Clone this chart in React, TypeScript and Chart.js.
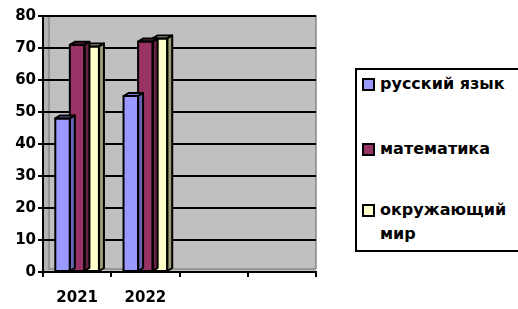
import React, { useEffect, useRef } from "react";
import { Chart, registerables } from "chart.js";

Chart.register(...registerables);

const categories = ["2021", "2022", "", ""];
const seriesNames = ["русский язык", "математика", "окружающий мир"];
const russian = [48, 55, null, null];
const maths = [71, 72, null, null];
const world = [70.5, 73, null, null];
const yTicks = [0, 10, 20, 30, 40, 50, 60, 70, 80];

const fronts = ["#9999ff", "#993366", "#ffffcc"];
const tops = ["#7b7bd6", "#7a2851", "#d9d9ad"];
const sides = ["#6666b3", "#66223f", "#999977"];

const FONT = "'DejaVu Sans', sans-serif";

const depthPlugin = {
  id: "depth3d",
  beforeDraw(chart: any) {
    const { ctx, chartArea: a } = chart;
    ctx.save();
    ctx.fillStyle = "#c0c0c0";
    ctx.fillRect(a.left, a.top, a.right - a.left, a.bottom - a.top);
    ctx.fillStyle = "#b4b4b4";
    ctx.beginPath();
    ctx.moveTo(a.left, a.top + 3);
    ctx.lineTo(a.left + 6, a.top);
    ctx.lineTo(a.left + 6, a.bottom - 3);
    ctx.lineTo(a.left, a.bottom);
    ctx.closePath();
    ctx.fill();
    ctx.strokeStyle = "#888888";
    ctx.lineWidth = 1.5;
    ctx.beginPath();
    ctx.moveTo(a.left + 6, a.top);
    ctx.lineTo(a.right, a.top);
    ctx.lineTo(a.right, a.bottom - 3);
    ctx.moveTo(a.left + 6, a.top);
    ctx.lineTo(a.left + 6, a.bottom - 3);
    ctx.lineTo(a.right, a.bottom - 3);
    ctx.stroke();
    ctx.restore();
  },
  afterDatasetDraw(chart: any, args: any) {
    const { ctx } = chart;
    const i = args.index;
    const meta = chart.getDatasetMeta(i);
    const dx = 5;
    const dy = 3;
    ctx.save();
    ctx.lineWidth = 2;
    ctx.strokeStyle = "#000";
    ctx.lineJoin = "round";
    meta.data.forEach((bar: any, j: number) => {
      const v = chart.data.datasets[i].data[j];
      if (v == null) return;
      const p = bar.getProps(["x", "y", "base", "width"], true);
      const l = p.x - p.width / 2;
      const r = p.x + p.width / 2;
      const t = p.y;
      const b = p.base;
      ctx.fillStyle = tops[i];
      ctx.beginPath();
      ctx.moveTo(l, t);
      ctx.lineTo(l + dx, t - dy);
      ctx.lineTo(r + dx, t - dy);
      ctx.lineTo(r, t);
      ctx.closePath();
      ctx.fill();
      ctx.stroke();
      ctx.fillStyle = sides[i];
      ctx.beginPath();
      ctx.moveTo(r, t);
      ctx.lineTo(r + dx, t - dy);
      ctx.lineTo(r + dx, b - dy);
      ctx.lineTo(r, b);
      ctx.closePath();
      ctx.fill();
      ctx.stroke();
      ctx.strokeRect(l, t, r - l, b - t);
    });
    ctx.restore();
  },
};

export default function App() {
  const ref = useRef<HTMLCanvasElement | null>(null);

  useEffect(() => {
    if (!ref.current) return;
    const series = [russian, maths, world];
    const chart = new Chart(ref.current, {
      type: "bar",
      data: {
        labels: categories,
        datasets: series.map((d, i) => ({
          label: seriesNames[i],
          data: d,
          backgroundColor: fronts[i],
          borderColor: "#000",
          borderWidth: 0,
          categoryPercentage: 0.64,
          barPercentage: 1,
        })),
      },
      options: {
        animation: false,
        responsive: false,
        maintainAspectRatio: false,
        layout: { padding: { top: 16, right: 202, left: 0, bottom: 0 } },
        plugins: {
          legend: { display: false },
          tooltip: { enabled: false },
        },
        scales: {
          x: {
            grid: {
              display: true,
              drawOnChartArea: false,
              drawTicks: true,
              tickLength: 5,
              color: "#000",
              lineWidth: 2,
              offset: true,
            },
            border: { display: true, color: "#000", width: 2 },
            ticks: {
              color: "#000",
              font: { family: FONT, size: 15, weight: "bold" },
              padding: 12,
              maxRotation: 0,
            },
            afterFit(s: any) {
              s.height = 37;
            },
          },
          y: {
            min: 0,
            max: 80,
            afterBuildTicks(s: any) {
              s.ticks = yTicks.map((v) => ({ value: v }));
            },
            grid: {
              color: "#000",
              lineWidth: 2,
              tickLength: 5,
              drawTicks: true,
            },
            border: { display: true, color: "#000", width: 2 },
            ticks: {
              color: "#000",
              font: { family: FONT, size: 15, weight: "bold" },
              padding: 2,
            },
            afterFit(s: any) {
              s.width = 43;
            },
          },
        },
      },
      plugins: [depthPlugin],
    });
    return () => chart.destroy();
  }, []);

  return (
    <div style={{ position: "absolute", left: 0, top: 0, width: 518, height: 309, background: "#fff", overflow: "hidden" }}>
      <canvas ref={ref} width={518} height={309} style={{ position: "absolute", left: 0, top: 0 }} />
      <div
        style={{
          position: "absolute",
          left: 355,
          top: 68,
          width: 180,
          height: 180,
          border: "2px solid #000",
          background: "#fff",
          fontFamily: FONT,
          fontWeight: 700,
          fontSize: 16,
          color: "#000",
        }}
      >
        {seriesNames.map((name, i) => (
          <div
            key={name}
            style={{
              position: "absolute",
              left: 5,
              top: [2, 67, 128][i],
              display: "flex",
              alignItems: "flex-start",
              lineHeight: "24px",
              width: 150,
            }}
          >
            <span
              style={{
                display: "inline-block",
                width: 9,
                height: 9,
                border: "2px solid #000",
                background: fronts[i],
                marginTop: 6,
                marginRight: 5,
                flexShrink: 0,
              }}
            />
            <span>{name}</span>
          </div>
        ))}
      </div>
    </div>
  );
}
